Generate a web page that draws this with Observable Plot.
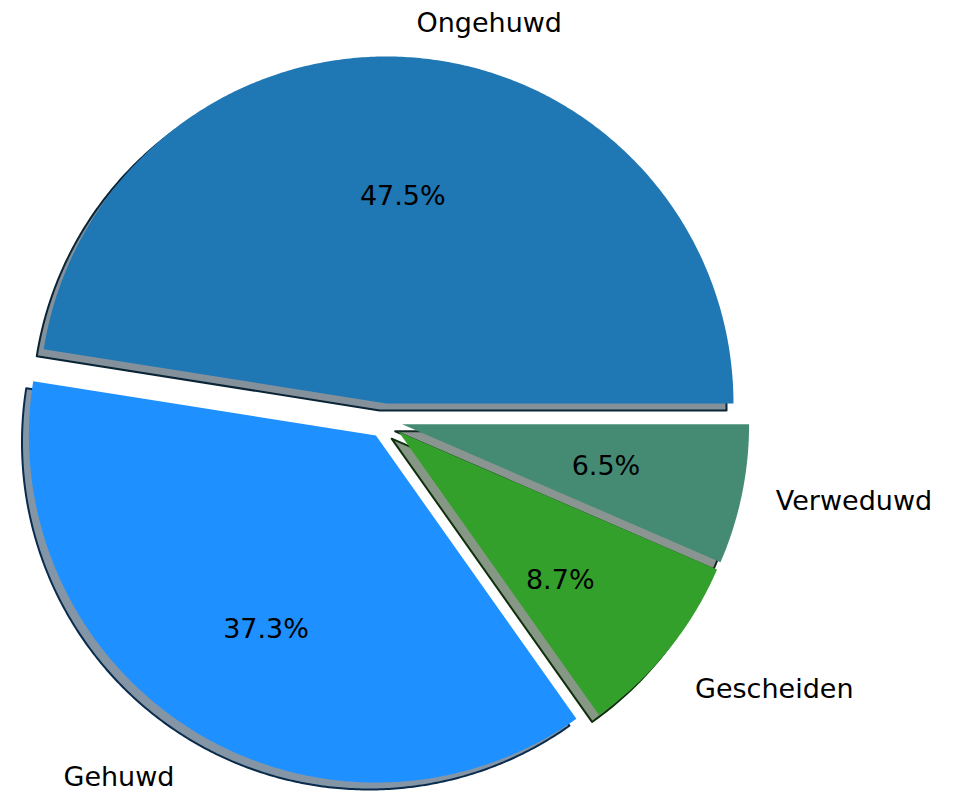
<!DOCTYPE html>
<html><head><meta charset="utf-8">
<script src="https://cdn.jsdelivr.net/npm/d3@7"></script>
<script src="https://cdn.jsdelivr.net/npm/@observablehq/plot@0.6"></script>
<style>body{margin:0;background:#fff;} svg{display:block}</style>
</head><body><div id="chart"></div>
<script>
const categories = ["Ongehuwd", "Gehuwd", "Gescheiden", "Verweduwd"];
const percentages = [47.5, 37.3, 8.7, 6.5];
const colors = ["#1f77b4", "#1e90ff", "#33a02c", "#458b74"];
const explode = [0.05, 0.05, 0.05, 0.05];

const W = 955, H = 792, CX = 384.6, CY = 420.3, R = 347;
const xDomain = [-CX / R, (W - CX) / R];
const yDomain = [-(H - CY) / R, CY / R];
const SHADOW = 0.02, LABELDIST = 1.1, PCTDIST = 0.6;

const total = d3.sum(percentages);
let start = 0;
const wedges = categories.map((name, i) => {
  const a1 = start, a2 = start + percentages[i] / total * 2 * Math.PI; start = a2;
  const mid = (a1 + a2) / 2;
  const ox = explode[i] * Math.cos(mid), oy = explode[i] * Math.sin(mid);
  const pts = [{x: ox, y: oy}];
  const n = Math.max(2, Math.ceil((a2 - a1) / (Math.PI / 360)));
  for (let k = 0; k <= n; k++) {
    const a = a1 + (a2 - a1) * k / n;
    pts.push({x: ox + Math.cos(a), y: oy + Math.sin(a)});
  }
  const c = d3.rgb(colors[i]);
  const dark = d3.rgb(c.r * 0.3, c.g * 0.3, c.b * 0.3).formatHex();
  const shift = Math.sin(mid) < -0.5 ? explode[i] : 0;
  return {name, color: colors[i], dark, pct: percentages[i], mid, ox, oy, pts, shift};
});

const marks = [];
for (const w of wedges) {
  marks.push(Plot.line(w.pts, {x: d => d.x - SHADOW, y: d => d.y - SHADOW, curve: "linear-closed",
    fill: w.dark, fillOpacity: 0.5, stroke: w.dark, strokeOpacity: 1, strokeWidth: 2}));
}
for (const w of wedges) {
  marks.push(Plot.line(w.pts, {x: "x", y: "y", curve: "linear-closed", fill: w.color, stroke: "none"}));
}
for (const w of wedges) {
  const cx = Math.cos(w.mid), sy = Math.sin(w.mid);
  marks.push(Plot.text([w], {
    x: d => d.ox + LABELDIST * cx, y: d => d.oy + LABELDIST * sy - d.shift,
    text: d => d.name, textAnchor: cx > 0 ? "start" : "end",
    fontSize: 27, fontFamily: "DejaVu Sans", fill: "black"
  }));
  marks.push(Plot.text([w], {
    x: d => d.ox + PCTDIST * cx, y: d => d.oy + PCTDIST * sy - d.shift,
    text: d => d.pct.toFixed(1) + "%", textAnchor: "middle",
    fontSize: 27, fontFamily: "DejaVu Sans", fill: "black"
  }));
}

const chart = Plot.plot({
  width: W, height: H, margin: 0,
  x: {domain: xDomain, axis: null},
  y: {domain: yDomain, axis: null},
  style: {background: "white", fontFamily: "DejaVu Sans"},
  marks
});
document.getElementById("chart").appendChild(chart);
</script>
</body></html>
